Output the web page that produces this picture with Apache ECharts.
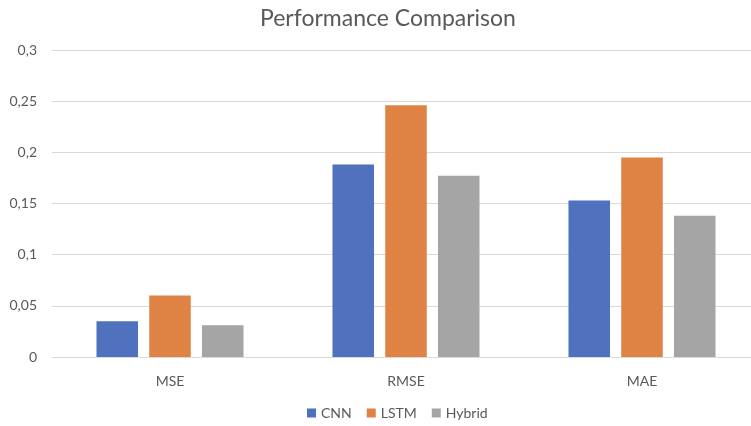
<!DOCTYPE html>
<html>
<head>
<meta charset="utf-8">
<script src="https://cdn.jsdelivr.net/npm/echarts@6/dist/echarts.min.js"></script>
<style>
  html, body { margin: 0; padding: 0; background: #fff; }
  #chart { width: 751px; height: 426px; }
</style>
</head>
<body>
<div id="chart"></div>
<script>
// data
const metrics = ['MSE', 'RMSE', 'MAE'];
const cnnValues = [0.035, 0.188, 0.153];
const lstmValues = [0.060, 0.246, 0.195];
const hybridValues = [0.031, 0.177, 0.138];
const yTicks = [0, 0.05, 0.1, 0.15, 0.2, 0.25, 0.3];

const textColor = '#595959';
const font = 'Lato, "Open Sans", sans-serif';

const chart = echarts.init(document.getElementById('chart'));

function bar(name, data, color) {
  return {
    name: name,
    type: 'bar',
    data: data,
    barWidth: '17.6%',
    barGap: '27%',
    itemStyle: { color: color },
  };
}

// the reference is cropped on the right, so the plot runs past the edge
chart.setOption({
  animation: false,
  textStyle: { fontFamily: font },
  title: {
    text: 'Performance Comparison',
    left: 255,
    top: 2,
    textStyle: { color: textColor, fontSize: 23, fontWeight: 'normal', fontFamily: font },
  },
  legend: {
    bottom: 1,
    left: 302,
    icon: 'rect',
    itemWidth: 9,
    itemHeight: 9,
    itemGap: 15,
    textStyle: { color: textColor, fontSize: 14, fontFamily: font },
  },
  grid: { left: 52, width: 708, top: 50, bottom: 69, outerBoundsMode: 'none' },
  xAxis: {
    type: 'category',
    data: metrics,
    axisLine: { lineStyle: { color: '#d9d9d9' } },
    axisTick: { show: false },
    axisLabel: { color: textColor, fontSize: 14, margin: 17 },
  },
  yAxis: {
    type: 'value',
    min: yTicks[0],
    max: yTicks[yTicks.length - 1],
    interval: 0.05,
    axisLine: { show: false },
    axisTick: { show: false },
    splitLine: { lineStyle: { color: '#d9d9d9' } },
    axisLabel: {
      color: textColor,
      fontSize: 14,
      margin: 15,
      formatter: (v) => String(+v.toFixed(2)).replace('.', ','),
    },
  },
  series: [
    bar('CNN', cnnValues, '#4F71BE'),
    bar('LSTM', lstmValues, '#DF8344'),
    bar('Hybrid', hybridValues, '#A5A5A5'),
  ],
});
</script>
</body>
</html>
